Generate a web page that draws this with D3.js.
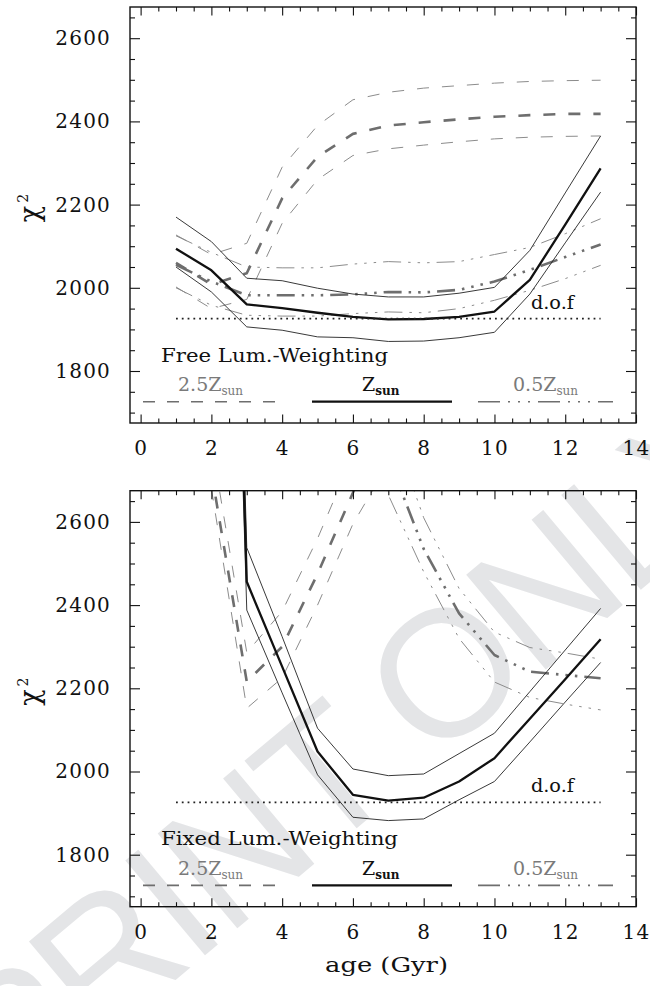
<!DOCTYPE html>
<html>
<head>
<meta charset="utf-8">
<script src="https://cdn.jsdelivr.net/npm/d3@7"></script>
<style>
  html, body { margin: 0; padding: 0; background: #fff; }
  svg { display: block; }
  text { font-family: "DejaVu Serif", serif; fill: #111; }
</style>
</head>
<body>
<svg id="chart" width="650" height="986"></svg>
<script>
// ---- data -------------------------------------------------------------
// free luminosity weighting (ages 1..13 Gyr)
const agesFree = [1, 2, 3, 4, 5, 6, 7, 8, 9, 10, 11, 12, 13];
const zsunFree   = [2094, 2042, 1960, 1951, 1940, 1930, 1924, 1925, 1930, 1943, 2019, 2152, 2287];
const zsunFreeHi = [2170, 2111, 2023, 2017, 1999, 1985, 1978, 1978, 1987, 2001, 2090, 2228, 2365];
const zsunFreeLo = [2050, 1990, 1906, 1898, 1882, 1880, 1871, 1872, 1880, 1893, 1985, 2108, 2230];
const z25Free    = [2060, 2008, 2035, 2215, 2315, 2370, 2390, 2398, 2405, 2411, 2415, 2418, 2418];
const z25FreeHi  = [2127, 2080, 2107, 2290, 2390, 2452, 2470, 2480, 2486, 2492, 2496, 2498, 2499];
const z25FreeLo  = [2002, 1950, 1972, 2155, 2260, 2318, 2334, 2343, 2351, 2358, 2362, 2364, 2365];
const z05Free    = [2055, 2015, 1982, 1982, 1982, 1984, 1990, 1989, 1995, 2015, 2043, 2074, 2104];
const z05FreeHi  = [2125, 2085, 2050, 2048, 2048, 2057, 2063, 2060, 2063, 2080, 2097, 2130, 2166];
const z05FreeLo  = [2000, 1958, 1934, 1932, 1932, 1938, 1942, 1940, 1950, 1970, 1994, 2022, 2054];

// fixed luminosity weighting
const agesFixedZsun = [2, 3, 4, 5, 6, 7, 8, 9, 10, 11, 12, 13];
const zsunFixed   = [5300, 2456, 2252, 2048, 1944, 1930, 1937, 1976, 2032, 2127, 2222, 2318];
const zsunFixedHi = [5400, 2538, 2324, 2104, 2006, 1990, 1994, 2043, 2092, 2192, 2292, 2392];
const zsunFixedLo = [5200, 2388, 2189, 1992, 1890, 1882, 1886, 1932, 1976, 2071, 2167, 2262];
const agesFixedZ25 = [2, 3, 4, 5, 6, 7];
const z25Fixed    = [2720, 2216, 2300, 2475, 2670, 2850];
const z25FixedHi  = [2791, 2286, 2385, 2560, 2760, 2950];
const z25FixedLo  = [2680, 2152, 2225, 2400, 2595, 2740];
const agesFixedZ05 = [6, 7, 8, 9, 10, 11, 12, 13];
const z05Fixed    = [3000, 2755, 2535, 2380, 2280, 2240, 2232, 2224];
const z05FixedHi  = [3100, 2850, 2610, 2440, 2335, 2298, 2285, 2270];
const z05FixedLo  = [2900, 2665, 2480, 2320, 2215, 2178, 2162, 2148];

// degrees of freedom level and its age span
const dofLevel = 1926;
const dofAges = [1, 13];

// axes
const xMajorTicks = [0, 2, 4, 6, 8, 10, 12, 14];
const yMajorTicks = [1800, 2000, 2200, 2400, 2600];
const xDomain = [-0.3, 14];
const yDomain = [1675, 2675];

// ---- styles -----------------------------------------------------------
const GREY_THICK = "#6e6e6e", GREY_THIN = "#8c8c8c", BLACK = "#111";
const DASH = "12,13";
const DASH3DOT = "18,7,2.5,7,2.5,7,2.5,7";
const style = {
  z25:   { stroke: GREY_THICK, width: 2.6, dash: DASH },
  z25b:  { stroke: GREY_THIN,  width: 1.0, dash: DASH },
  z05:   { stroke: GREY_THICK, width: 2.6, dash: DASH3DOT },
  z05b:  { stroke: GREY_THIN,  width: 1.0, dash: DASH3DOT },
  zsun:  { stroke: BLACK, width: 2.3, dash: null },
  zsunb: { stroke: "#222", width: 0.9, dash: null }
};

const panels = [
  {
    id: "free", top: 7, title: "Free Lum.-Weighting", titleWidth: 227,
    series: [
      { x: agesFree, y: z25FreeHi, s: style.z25b }, { x: agesFree, y: z25FreeLo, s: style.z25b },
      { x: agesFree, y: z05FreeHi, s: style.z05b }, { x: agesFree, y: z05FreeLo, s: style.z05b },
      { x: agesFree, y: z25Free, s: style.z25 }, { x: agesFree, y: z05Free, s: style.z05 },
      { x: agesFree, y: zsunFreeHi, s: style.zsunb }, { x: agesFree, y: zsunFreeLo, s: style.zsunb },
      { x: agesFree, y: zsunFree, s: style.zsun }
    ]
  },
  {
    id: "fixed", top: 490.7, title: "Fixed Lum.-Weighting", titleWidth: 237,
    series: [
      { x: agesFixedZ25, y: z25FixedHi, s: style.z25b }, { x: agesFixedZ25, y: z25FixedLo, s: style.z25b },
      { x: agesFixedZ05, y: z05FixedHi, s: style.z05b }, { x: agesFixedZ05, y: z05FixedLo, s: style.z05b },
      { x: agesFixedZ25, y: z25Fixed, s: style.z25 }, { x: agesFixedZ05, y: z05Fixed, s: style.z05 },
      { x: agesFixedZsun, y: zsunFixedHi, s: style.zsunb }, { x: agesFixedZsun, y: zsunFixedLo, s: style.zsunb },
      { x: agesFixedZsun, y: zsunFixed, s: style.zsun }
    ]
  }
];

// ---- layout -----------------------------------------------------------
const svg = d3.select("#chart");
const left = 130, right = 636, plotH = 416;
const x = d3.scaleLinear().domain(xDomain).range([left, right]);
const xMinor = d3.range(0, 14.01, 0.5).filter(v => !xMajorTicks.includes(v));
const yMinor = d3.range(1700, 2675, 50).filter(v => !yMajorTicks.includes(v));

// faint diagonal watermark behind everything, its "O" centred on (442, 673)
const wm = svg.append("g").attr("transform", "translate(442,673) rotate(-40)");
const wmText = wm.append("text")
  .attr("x", 0).attr("y", 64)
  .style("font-family", "'Liberation Sans', Arial, sans-serif")
  .style("font-size", "180px")
  .style("letter-spacing", "-6px")
  .style("fill", "#e4e5e7")
  .text("PRINT ONLY");
{
  const n = wmText.node();
  const before = n.getSubStringLength(0, 6);
  const oWidth = n.getSubStringLength(6, 1);
  wmText.attr("x", -(before + oWidth / 2));
}

panels.forEach(p => {
  const top = p.top, bottom = top + plotH;
  const y = d3.scaleLinear().domain(yDomain).range([bottom, top]);
  const g = svg.append("g").attr("class", "panel-" + p.id);

  const clipId = "clip-" + p.id;
  svg.append("clipPath").attr("id", clipId)
    .append("rect").attr("x", left).attr("y", top).attr("width", right - left).attr("height", plotH);

  // curves
  const line = d3.line().x(d => x(d[0])).y(d => y(d[1]));
  const curves = g.append("g").attr("clip-path", `url(#${clipId})`);
  p.series.forEach(sr => {
    curves.append("path")
      .datum(sr.x.map((a, i) => [a, sr.y[i]]))
      .attr("d", line)
      .attr("fill", "none")
      .attr("stroke", sr.s.stroke)
      .attr("stroke-width", sr.s.width)
      .attr("stroke-dasharray", sr.s.dash)
      .attr("stroke-linejoin", "round");
  });

  // d.o.f. level
  curves.append("path")
    .datum(dofAges.map(a => [a, dofLevel]))
    .attr("d", line)
    .attr("fill", "none").attr("stroke", "#222")
    .attr("stroke-width", 1.8).attr("stroke-dasharray", "1.8,4");
  g.append("text")
    .attr("x", x(11.03)).attr("y", y(dofLevel) - 10)
    .attr("textLength", 43).attr("lengthAdjust", "spacingAndGlyphs")
    .style("font-size", "18px").text("d.o.f");

  // axes: ticks point inward on all four sides
  const tickText = sel => sel.selectAll("text")
    .style("font-family", "'DejaVu Serif', serif")
    .style("font-size", "20px")
    .style("letter-spacing", "1.2px")
    .attr("fill", "#111");
  const clean = sel => { sel.select(".domain").remove(); sel.selectAll("line").attr("stroke", "#111").attr("stroke-width", 1.1); };

  g.append("g").attr("transform", `translate(${left},0)`)
    .call(d3.axisLeft(y).tickValues(yMajorTicks).tickSize(-10).tickPadding(19).tickFormat(d3.format("d")))
    .call(clean).call(tickText);
  g.append("g").attr("transform", `translate(${left},0)`)
    .call(d3.axisLeft(y).tickValues(yMinor).tickSize(-5).tickFormat(""))
    .call(clean);
  g.append("g").attr("transform", `translate(${right},0)`)
    .call(d3.axisRight(y).tickValues(yMajorTicks).tickSize(-10).tickFormat(""))
    .call(clean);
  g.append("g").attr("transform", `translate(${right},0)`)
    .call(d3.axisRight(y).tickValues(yMinor).tickSize(-5).tickFormat(""))
    .call(clean);

  const xb = g.append("g").attr("transform", `translate(0,${bottom})`)
    .call(d3.axisBottom(x).tickValues(xMajorTicks).tickSize(-8.5).tickFormat(d3.format("d")))
    .call(clean).call(tickText);
  xb.selectAll("text").attr("y", 32).attr("dy", null);
  g.append("g").attr("transform", `translate(0,${bottom})`)
    .call(d3.axisBottom(x).tickValues(xMinor).tickSize(-4.5).tickFormat(""))
    .call(clean);
  g.append("g").attr("transform", `translate(0,${top})`)
    .call(d3.axisTop(x).tickValues(xMajorTicks).tickSize(-8.5).tickFormat(""))
    .call(clean);
  g.append("g").attr("transform", `translate(0,${top})`)
    .call(d3.axisTop(x).tickValues(xMinor).tickSize(-4.5).tickFormat(""))
    .call(clean);

  // frame
  g.append("rect").attr("x", left).attr("y", top).attr("width", right - left).attr("height", plotH)
    .attr("fill", "none").attr("stroke", "#111").attr("stroke-width", 1.4);

  // y axis title
  const yt = g.append("text")
    .attr("transform", `translate(39,${top + 201}) rotate(-90)`)
    .attr("text-anchor", "middle")
    .style("font-size", "27px");
  yt.append("tspan").text("χ");
  yt.append("tspan").attr("dy", -11).attr("dx", 3).style("font-size", "14px").text("2");

  // panel title
  g.append("text")
    .attr("x", 161).attr("y", top + 354.7)
    .attr("textLength", p.titleWidth).attr("lengthAdjust", "spacingAndGlyphs")
    .style("font-size", "18px").text(p.title);

  // legend
  const legY = top + 394.7, labY = top + 384;
  const legend = [
    { x0: 143, x1: 285, stroke: GREY_THICK, width: 1.6, dash: "12,12", pre: "2.5Z", tx: 178, color: "#7a7a7a", bold: false },
    { x0: 312, x1: 452, stroke: BLACK, width: 2.3, dash: null, pre: "Z", tx: 362, color: "#111", bold: true },
    { x0: 478, x1: 613, stroke: GREY_THICK, width: 1.6, dash: "22,8,2,8,2,8,2,8", pre: "0.5Z", tx: 513, color: "#7a7a7a", bold: false }
  ];
  legend.forEach(l => {
    g.append("line").attr("x1", l.x0).attr("x2", l.x1).attr("y1", legY).attr("y2", legY)
      .attr("stroke", l.stroke).attr("stroke-width", l.width)
      .attr("stroke-dasharray", l.dash);
    const t = g.append("text").attr("x", l.tx).attr("y", labY)
      .style("font-size", "19px").style("fill", l.color);
    t.append("tspan").text(l.pre);
    t.append("tspan").attr("dy", 4).style("font-size", "12px")
      .style("font-weight", l.bold ? "bold" : "normal").text("sun");
  });
});

// x axis title
svg.append("text")
  .attr("x", 325).attr("y", 972)
  .attr("textLength", 123).attr("lengthAdjust", "spacingAndGlyphs")
  .style("font-size", "20px").text("age (Gyr)");
</script>
</body>
</html>
